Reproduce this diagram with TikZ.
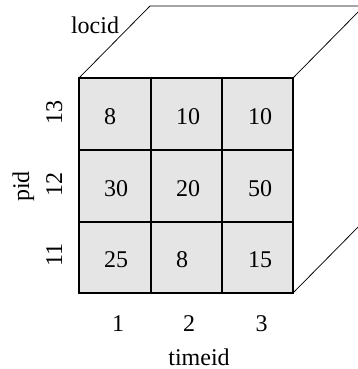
\documentclass[tikz,border=0pt]{standalone}
\usepackage{fontspec}
\setmainfont{Liberation Serif}
\begin{document}
\begin{tikzpicture}[x=1pt,y=1pt,
  every node/.style={font=\fontsize{24}{28}\selectfont, inner sep=0pt},
  cell/.style={draw, fill=black!10, line width=1.6pt, outer sep=0pt, anchor=north west},
  val/.style={anchor=base west},
  edge/.style={line width=0.75pt}]
\useasboundingbox (0,0) rectangle (358,-369);
\clip (0,0) rectangle (358,-369);
% cells
\foreach \c/\cx/\w in {1/79/72,2/151/71,3/222/71} {
  \foreach \r/\ry/\h in {13/78/72,12/150/72,11/222/71} {
    \node[cell, minimum width=\w pt, minimum height=\h pt] (c\r\c) at (\cx,-\ry) {};
  }
}
% values
\node[val] (v131) at (104,-124) {8};
\node[val] (v132) at (176,-124) {10};
\node[val] (v133) at (248,-124) {10};
\node[val] (v121) at (104,-196) {30};
\node[val] (v122) at (176,-196) {20};
\node[val] (v123) at (248,-196) {50};
\node[val] (v111) at (104,-267.5) {25};
\node[val] (v112) at (176,-267.5) {8};
\node[val] (v113) at (248,-267.5) {15};
% cube back edges
\coordinate (ftl) at (79,-78);
\coordinate (ftr) at (293,-78);
\coordinate (fbr) at (293,-293);
\coordinate (btl) at (150,-6);
\coordinate (btr) at (364,-6);
\coordinate (bbr) at (364,-221);
\draw[edge] (ftl) -- (btl) -- (btr) -- (ftr);
\draw[edge] (btr) -- (bbr) -- (fbr);
% labels
\node[anchor=base] (locid) at (95,-34) {locid};
\node[rotate=90, anchor=base] (r13) at (62,-112) {13};
\node[rotate=90, anchor=base] (r12) at (62,-184) {12};
\node[rotate=90, anchor=base] (r11) at (62,-255) {11};
\node[rotate=90, anchor=base] (pid) at (29,-186.5) {pid};
\node[anchor=base] (t1) at (118,-331) {1};
\node[anchor=base] (t2) at (189,-331) {2};
\node[anchor=base] (t3) at (261.5,-331) {3};
\node[anchor=base] (timeid) at (199,-365) {timeid};
\end{tikzpicture}
\end{document}
